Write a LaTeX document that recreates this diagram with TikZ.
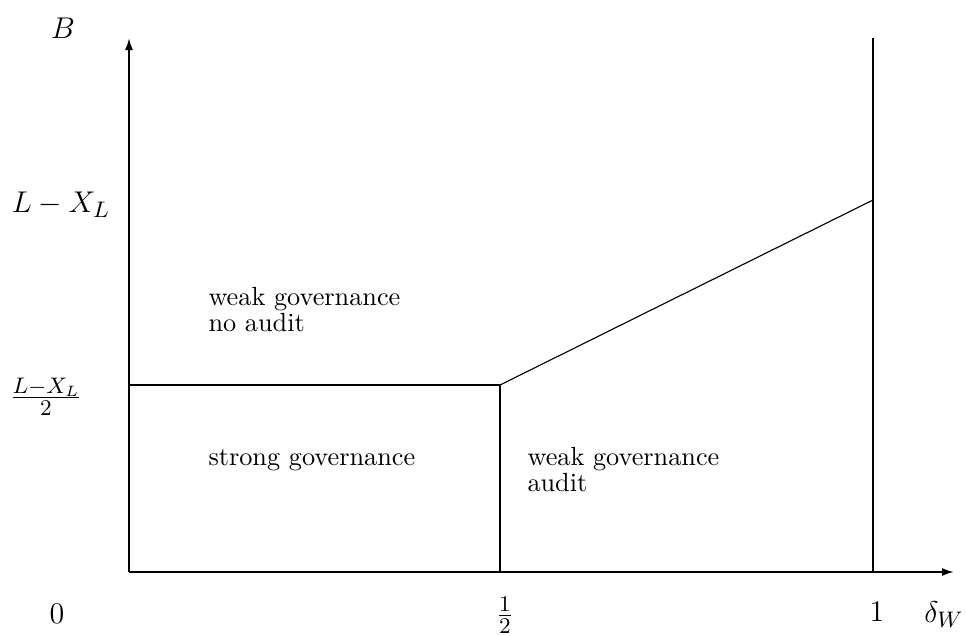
\documentclass[tikz,border=0pt]{standalone}
\usetikzlibrary{arrows.meta}
\begin{document}
\begin{tikzpicture}[x=0.4pt,y=-0.4pt,
  axis/.style={line width=0.8pt,-{Latex[length=4.8pt,width=3.2pt]}},
  bline/.style={line width=0.8pt},
  thin line/.style={line width=0.45pt},
  lbl/.style={inner sep=0pt,font=\fontsize{12.6pt}{15pt}\selectfont},
  flbl/.style={inner sep=0pt,font=\fontsize{12.4pt}{14pt}\selectfont},
  region/.style={inner sep=0pt,anchor=base west,font=\fontsize{10.5pt}{13pt}\selectfont}]
\useasboundingbox (0,0) rectangle (966,635);
\coordinate (O) at (129,572);
\coordinate (ytop) at (129,38);
\coordinate (xend) at (954,572);
\coordinate (half) at (500,572);
\coordinate (halfk) at (500,385);
\coordinate (yk) at (129,385);
\coordinate (one) at (873,572);
\coordinate (onetop) at (873,38);
\coordinate (onek) at (873,200);
\draw[axis] (O) -- (ytop);
\draw[axis] (O) -- (xend);
\draw[bline] (one) -- (onetop);
\draw[bline] (half) -- (halfk);
\draw[bline] (yk) -- (halfk);
\draw[thin line] (halfk) -- (onek);
\node[lbl] (B) at (63,28) {$B$};
\node[lbl] (LX) at (61,205) {$L-X_L$};
\node[flbl] (LX2) at (46,397) {$\frac{L-X_L}{2}$};
\node[lbl] (zero) at (57,614) {$0$};
\node[flbl] (halflbl) at (505,615) {$\frac{1}{2}$};
\node[lbl] (onelbl) at (877,612) {$1$};
\node[lbl] (delta) at (944,615) {$\delta_W$};
\node[region] (wna1) at (208,305) {weak governance};
\node[region] (wna2) at (208,331) {no audit};
\node[region] (sg) at (208,465) {strong governance};
\node[region] (wa1) at (527,465) {weak governance};
\node[region] (wa2) at (527,491) {audit};
\end{tikzpicture}
\end{document}
